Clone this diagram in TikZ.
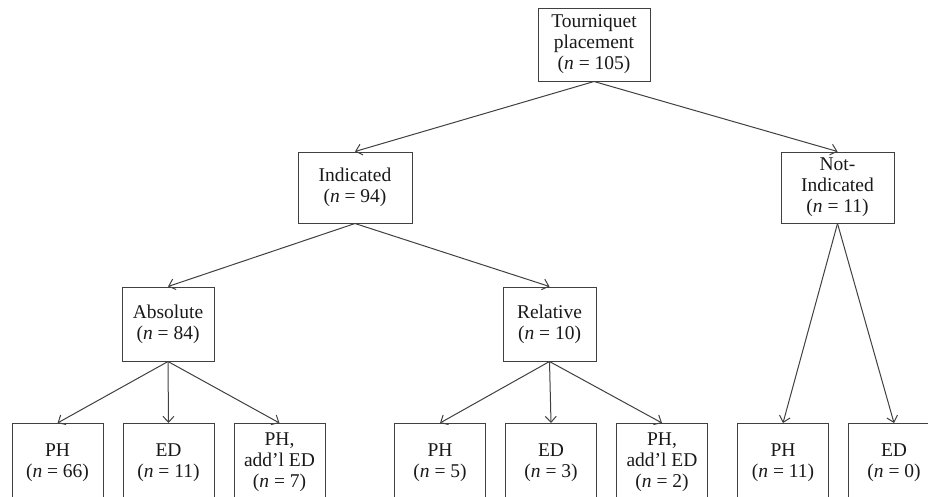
\documentclass[tikz,border=0pt]{standalone}
\usepackage{fontspec}
\setmainfont{Liberation Serif}
\usetikzlibrary{
  arrows.meta, % for Straight Barb arrow tip
  positioning, % for relative positioning of the boxes in a row
}
\tikzset{
  box/.style={ % style for each box of the tree
    rectangle,draw=black!75,line width=1pt, % drawn as a dark grey rectangle
    align=center, % centre the lines of text
    inner sep=2pt, % small padding between the text and the rectangle
    font=\fontsize{19.5}{21}\selectfont, % same text size in every box
    text=black!90, % near black text
  },
  leaf/.style={ % style for the boxes of the bottom row
    box, % inherit the box style
    anchor=north, % placed by their top edge
    minimum width=91pt, % all of the same width
    minimum height=78pt, % cut off by the bottom of the picture
    node distance=19pt, % gap between boxes of one group
  },
  conn/.style={ % style for the connections
    -{Straight Barb[length=6pt,width=11pt]}, % open barbed arrow tip
    draw=black!75,line width=1pt, % same weight as the boxes
  },
}
\newcommand{\nn}[1]{(\textit{n} = #1)}

\begin{document}
\begin{tikzpicture}[x=1pt,y=-1pt]

	\useasboundingbox (0,0) rectangle (928,496);
	\clip (0,0) rectangle (928,496);

	\node[box,minimum width=112pt,minimum height=73pt] (tq) at (594,44.5) {Tourniquet\\placement\\\nn{105}};

	\node[box,minimum width=114pt,minimum height=71pt] (ind) at (355,187.5) {Indicated\\\nn{94}};
	\node[box,minimum width=113pt,minimum height=71pt] (nind) at (837.5,187.5) {Not-\\Indicated\\\nn{11}};

	\node[box,minimum width=92pt,minimum height=74pt] (abs) at (168,324) {Absolute\\\nn{84}};
	\node[box,minimum width=93pt,minimum height=74pt] (rel) at (549.5,324) {Relative\\\nn{10}};

	\node[leaf] (a1) at (57.5,423) {PH\\\nn{66}};
	\node[leaf,right=of a1] (a2) {ED\\\nn{11}};
	\node[leaf,right=of a2] (a3) {PH,\\add’l ED\\\nn{7}};

	\node[leaf] (r1) at (440,423) {PH\\\nn{5}};
	\node[leaf,right=of r1] (r2) {ED\\\nn{3}};
	\node[leaf,right=of r2] (r3) {PH,\\add’l ED\\\nn{2}};

	\node[leaf] (n1) at (783,423) {PH\\\nn{11}};
	\node[leaf,right=of n1] (n2) {ED\\\nn{0}};

	\draw[conn] (tq.south) -- (ind.north);
	\draw[conn] (tq.south) -- (nind.north);

	\draw[conn] (ind.south) -- (abs.north);
	\draw[conn] (ind.south) -- (rel.north);

	\draw[conn] (abs.south) -- (a1.north);
	\draw[conn] (abs.south) -- (a2.north);
	\draw[conn] (abs.south) -- (a3.north);

	\draw[conn] (rel.south) -- (r1.north);
	\draw[conn] (rel.south) -- (r2.north);
	\draw[conn] (rel.south) -- (r3.north);

	\draw[conn] (nind.south) -- (n1.north);
	\draw[conn] (nind.south) -- (n2.north);

\end{tikzpicture}
\end{document}
